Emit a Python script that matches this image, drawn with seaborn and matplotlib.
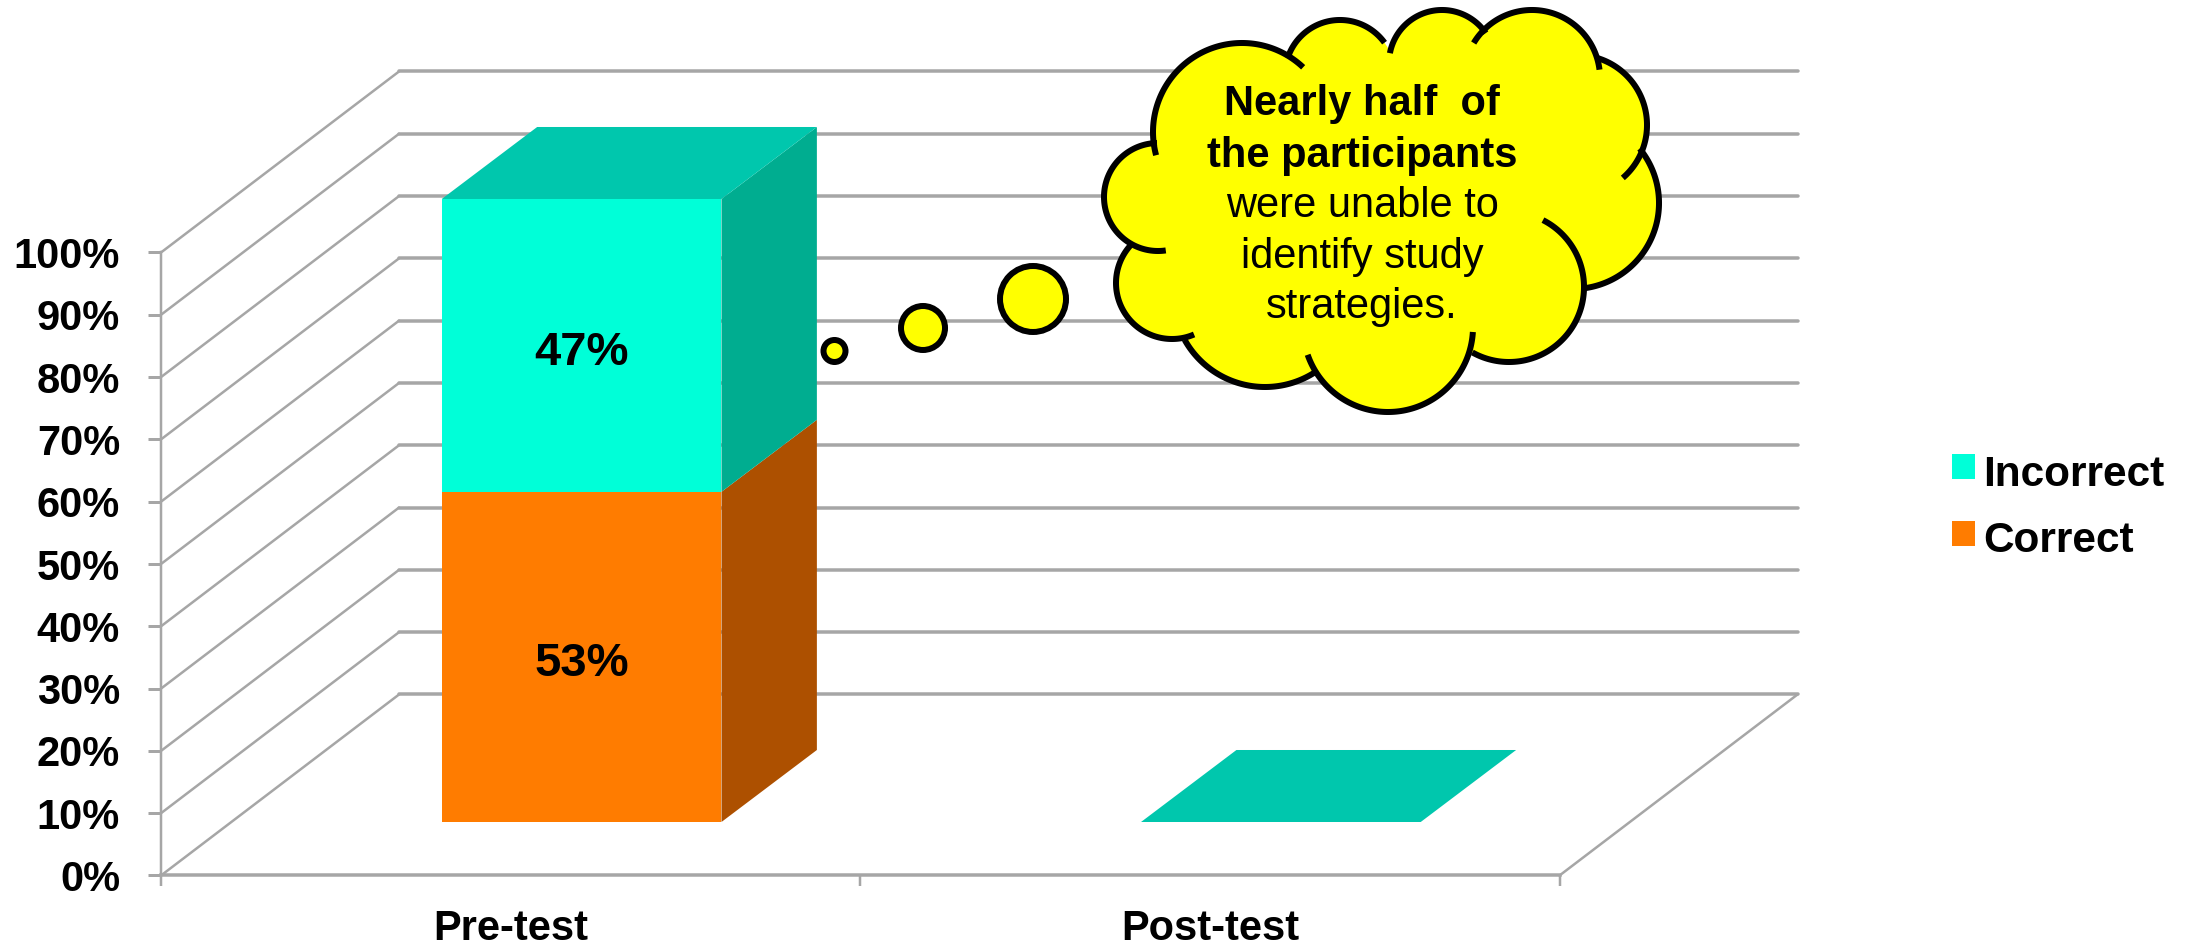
import numpy as np
import pandas as pd
import matplotlib
matplotlib.use("Agg")
import matplotlib.pyplot as plt
from matplotlib.patches import Circle, Patch, Polygon
import seaborn as sns

# ---- data ----
categories = ["Pre-test", "Post-test"]
correct = [53, 0]
incorrect = [47, 0]
bar_labels = {"Correct": ["53%", None], "Incorrect": ["47%", None]}
y_ticks = list(range(0, 101, 10))
callout_lines = [("Nearly half  of", "bold"), ("the participants", "bold"),
                 ("were unable to", "normal"), ("identify study", "normal"),
                 ("strategies.", "normal")]

# ---- style ----
C_FRONT = {"Correct": "#FF7C00", "Incorrect": "#00FFD8"}
C_SIDE = {"Correct": "#AD5000", "Incorrect": "#00AD90"}
C_TOP = "#00C7AD"
GRID = "#A6A6A6"
W, H, DPI = 2193, 949, 100
px = 72 / DPI

sns.set_theme(style="white")
plt.rcParams["font.family"] = ["Liberation Sans", "DejaVu Sans"]

fig = plt.figure(figsize=((W + 0.01) / DPI, (H + 0.01) / DPI), dpi=DPI, facecolor="white")
AX_L, AX_R, AX_T, AX_B = 161, 1559.5, 252.5, 875.5
ax = fig.add_axes([AX_L / W, 1 - AX_B / H, (AX_R - AX_L) / W, (AX_B - AX_T) / H])

df = pd.DataFrame({"cat": categories, "Correct": correct, "Incorrect": incorrect})
BAR_W = 0.4
sns.barplot(data=df, x="cat", y="Correct", color=C_FRONT["Correct"], saturation=1,
            width=BAR_W, ax=ax, linewidth=0)
sns.barplot(data=df, x="cat", y="Incorrect", color=C_FRONT["Incorrect"], saturation=1,
            width=BAR_W, ax=ax, linewidth=0)

ax.set_xlim(-0.5, 1.5)
ax.set_ylim(0, 100)

# oblique projection, in data units
ux = (AX_R - AX_L) / 2
uy = (AX_B - AX_T) / 100
WALL_DX, WALL_DY = 238 / ux, 181 / uy
SHIFT_DX, SHIFT_DY = 71 / ux, 53.5 / uy
BAR_DX, BAR_DY = 95.4 / ux, 72 / uy

# walls
for t in y_ticks:
    ax.plot([-0.5, -0.5 + WALL_DX], [t, t + WALL_DY], color=GRID, lw=2.5 * px,
            clip_on=False, zorder=1, solid_capstyle="round")
    ax.plot([-0.5 + WALL_DX, 1.5 + WALL_DX], [t + WALL_DY] * 2, color=GRID, lw=3.5 * px,
            clip_on=False, zorder=1, solid_capstyle="round")
ax.plot([1.5, 1.5 + WALL_DX], [0, WALL_DY], color=GRID, lw=2.5 * px, clip_on=False, zorder=1)

# bars: shift the front faces, then add the sides and tops
bars_c, bars_i = ax.containers[0], ax.containers[1]
for i, (pc, pi) in enumerate(zip(bars_c, bars_i)):
    pc.set_x(pc.get_x() + SHIFT_DX)
    pc.set_y(pc.get_y() + SHIFT_DY)
    pi.set_x(pi.get_x() + SHIFT_DX)
    pi.set_y(pc.get_y() + pc.get_height())
    for p, name in ((pc, "Correct"), (pi, "Incorrect")):
        p.set_clip_on(False)
        p.set_zorder(5)
        x1 = p.get_x() + p.get_width()
        y0, y1 = p.get_y(), p.get_y() + p.get_height()
        if y1 > y0:
            ax.add_patch(Polygon([(x1, y0), (x1 + BAR_DX, y0 + BAR_DY),
                                  (x1 + BAR_DX, y1 + BAR_DY), (x1, y1)],
                                 closed=True, fc=C_SIDE[name], ec="none",
                                 clip_on=False, zorder=4))
        lab = bar_labels[name][i]
        if lab:
            ax.text(p.get_x() + p.get_width() / 2, (y0 + y1) / 2 - 1.2, lab, ha="center",
                    va="center", fontsize=34, fontweight="bold", color="black", zorder=6)
    x0, x1 = pi.get_x(), pi.get_x() + pi.get_width()
    top = pi.get_y() + pi.get_height()
    ax.add_patch(Polygon([(x0, top), (x1, top), (x1 + BAR_DX, top + BAR_DY),
                          (x0 + BAR_DX, top + BAR_DY)], closed=True, fc=C_TOP, ec="none",
                         clip_on=False, zorder=4))

# axes
sns.despine(ax=ax)
for s in ("left", "bottom"):
    ax.spines[s].set_color(GRID)
ax.spines["left"].set_linewidth(2.5 * px)
ax.spines["bottom"].set_linewidth(3.5 * px)
ax.patch.set_alpha(0)
ax.set_xlabel("")
ax.set_ylabel("")
ax.set_yticks(y_ticks)
ax.set_yticklabels([f"{t}%" for t in y_ticks], fontsize=30, fontweight="bold", color="black")
ax.tick_params(axis="y", left=True, length=13 * px, width=3 * px, color=GRID, pad=28 * px)
ax.set_xticks([-0.5, 0.5, 1.5])
ax.set_xticklabels(["", "", ""])
ax.tick_params(axis="x", which="major", bottom=True, length=11 * px, width=2.5 * px, color=GRID)
ax.set_xticks([0, 1], minor=True)
ax.set_xticklabels(categories, minor=True, fontsize=30, fontweight="bold", color="black")
ax.tick_params(axis="x", which="minor", bottom=False, length=0, pad=33 * px)

# legend
handles = [Patch(fc=C_FRONT["Incorrect"], ec="none", label="Incorrect"),
           Patch(fc=C_FRONT["Correct"], ec="none", label="Correct")]
leg = fig.legend(handles=handles, loc="center left", bbox_to_anchor=(1944 / W, 1 - 508 / H),
                 frameon=False, prop={"size": 30.5, "weight": "bold"}, handlelength=0.53,
                 handleheight=0.53, handletextpad=0.2, labelspacing=0.63, borderpad=0.2,
                 borderaxespad=0, labelcolor="black")
for h in leg.legend_handles:
    h.set_y(h.get_y() + 3)

# ---- thought bubble, an annotation drawn in figure pixels ----
ov = fig.add_axes([0, 0, 1, 1], zorder=10)
ov.set_xlim(0, W)
ov.set_ylim(H, 0)
ov.axis("off")
ov.patch.set_alpha(0)

YEL = "#FFFF00"
LW = 6 * px
lobes = [  # centre x, y, radius, arc start, arc end
    (1158, 197, 54, (1166, 252), (1157, 143)),
    (1242, 132, 89, (1157, 155), (1300.6, 70)),
    (1340, 75, 55, (1285, 57), (1391, 38)),
    (1442, 63, 53, (1389, 53), (1486, 33)),
    (1532, 78, 68, (1477, 45), (1597, 70)),
    (1577, 125, 70, (1597, 58), (1622, 177)),
    (1573, 203, 86, (1638, 150), (1584, 288)),
    (1509, 287, 75, (1542, 222), (1472, 353)),
    (1388, 327, 85, (1473, 332), (1307, 355)),
    (1265, 295, 92, (1317, 370), (1179, 343)),
    (1172, 283, 56, (1193, 332), (1133, 243)),
]
ov.add_patch(Polygon([(l[0], l[1]) for l in lobes], closed=True, fc=YEL, ec=YEL, zorder=2))
for cx, cy, r, p1, p2 in lobes:
    ov.add_patch(Circle((cx, cy), r, fc=YEL, ec="none", zorder=2))
for cx, cy, r, p1, p2 in lobes:
    a1 = np.arctan2(p1[1] - cy, p1[0] - cx)
    a2 = np.arctan2(p2[1] - cy, p2[0] - cx)
    if a2 < a1:
        a2 += 2 * np.pi
    th = np.linspace(a1, a2, 120)
    ov.plot(cx + r * np.cos(th), cy + r * np.sin(th), color="black", lw=LW,
            solid_capstyle="butt", zorder=3)
for cx, cy, r in [(834.5, 351, 11), (923, 328, 22), (1033, 299, 33)]:
    ov.add_patch(Circle((cx, cy), r, fc=YEL, ec="black", lw=LW, zorder=2))

for (txt, wt), yy in zip(callout_lines, [104, 156, 206, 257, 307]):
    ov.text(1362, yy, txt, ha="center", va="center", fontsize=30, fontweight=wt,
            color="black", zorder=4)

fig.savefig("out.png", dpi=DPI, facecolor="white")
